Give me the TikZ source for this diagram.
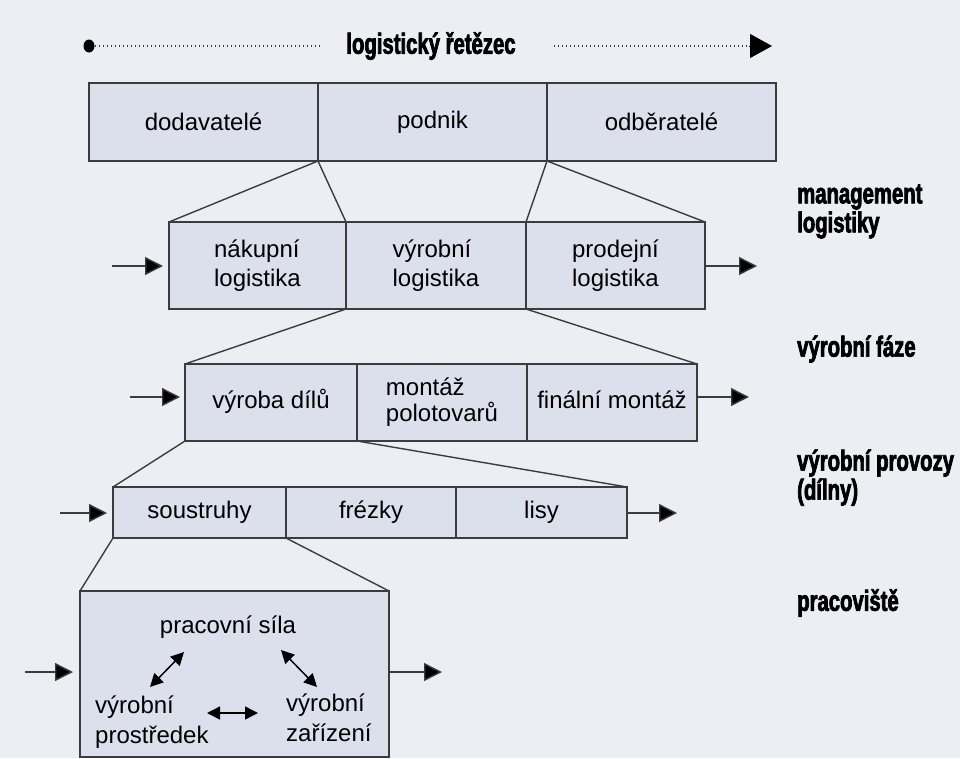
\documentclass[tikz,border=0pt]{standalone}
\usepackage{fontspec}
\setmainfont{Liberation Sans}
\newfontfamily\headfont[FakeStretch=0.70,FakeBold=2.4]{Liberation Sans Bold}
\usetikzlibrary{arrows.meta,shapes.geometric}
\definecolor{pagebg}{HTML}{EDEEF3}
\definecolor{cellfill}{HTML}{DCE0EC}
\definecolor{edge}{HTML}{3C3C3C}
\tikzset{
  cell/.style={draw=edge, fill=cellfill, line width=1.4pt, inner sep=0pt, outer sep=0pt,
    align=left, font=\fontsize{24}{29}\selectfont},
  oneline/.style={text height=17pt, text depth=5pt},
  link/.style={draw=edge, line width=1.4pt},
  flow/.style={draw=edge, line width=1.4pt, -{Triangle[length=18pt,width=18pt,fill=black]}},
  both/.style={draw=black, line width=1.5pt,
    {Triangle[length=13pt,width=13pt]}-{Triangle[length=13pt,width=13pt]}},
  txt/.style={inner sep=0pt, align=left, font=\fontsize{24}{30}\selectfont},
  head/.style={inner sep=0pt, align=left, anchor=west, font=\headfont\fontsize{29}{29}\selectfont},
  dotline/.style={draw=edge, line width=1.5pt, dash pattern=on 1.5pt off 2.5pt}
}
\begin{document}
\begin{tikzpicture}[x=1pt,y=-1pt]
\fill[pagebg] (0,0) rectangle (960,758);
\useasboundingbox (0,0) rectangle (960,758);
\clip (0,0) rectangle (960,758);

% chain heading
\node[ellipse, fill=black, inner sep=0pt, minimum width=11pt, minimum height=13pt] (start) at (89,46) {};
\node[inner sep=0pt, font=\headfont\fontsize{29}{29}\selectfont] (chain) at (431,46) {logistický řetězec};
\coordinate (chainend) at (772,46);
\draw[dotline] (start) -- ([xshift=-25pt]chain.west);
\draw[dotline] ([xshift=38pt]chain.east) -- ([xshift=-22pt]chainend);
\draw[-{Triangle[length=22pt,width=24pt]}, line width=1pt] ([xshift=-23pt]chainend) -- (chainend);

% level 1
\node[cell, minimum width=229pt, minimum height=78pt] (dod) at (203.5,122) {dodavatelé};
\node[cell, minimum width=229pt, minimum height=78pt] (pod) at (432.5,122) {podnik};
\node[cell, minimum width=229pt, minimum height=78pt] (odb) at (661.5,122) {odběratelé};

% level 2
\node[cell, minimum width=177pt, minimum height=87pt] (nak) at (257.5,265.5) {nákupní\\logistika};
\node[cell, minimum width=180pt, minimum height=87pt] (vyl) at (436,265.5) {výrobní\\logistika};
\node[cell, minimum width=179pt, minimum height=87pt] (pro) at (615.5,265.5) {prodejní\\logistika};

% level 3
\node[cell, oneline, minimum width=172pt, minimum height=77pt] (vd) at (271,402.5) {výroba dílů};
\node[cell, minimum width=170pt, minimum height=77pt, font=\fontsize{24}{26}\selectfont] (mp) at (442,402.5) {montáž\\polotovarů};
\node[cell, oneline, minimum width=170pt, minimum height=77pt] (fm) at (612,402.5) {finální montáž};

% level 4
\node[cell, oneline, minimum width=173pt, minimum height=51pt] (sou) at (199.5,512.5) {soustruhy};
\node[cell, oneline, minimum width=170pt, minimum height=51pt] (fre) at (371,512.5) {frézky};
\node[cell, oneline, minimum width=171pt, minimum height=51pt] (lis) at (541.5,512.5) {lisy};

% level 5: workplace
\node[cell, minimum width=309pt, minimum height=166pt] (wp) at (234.5,674) {};
\node[txt] (sila) at (228,627) {pracovní síla};
\node[txt, anchor=west] (prostr) at (95,722.5) {výrobní\\prostředek};
\node[txt, anchor=west] (zariz) at (286,718) {výrobní\\zařízení};
\coordinate (a1) at (150,687); \coordinate (a2) at (184,652);
\coordinate (b1) at (281,650); \coordinate (b2) at (317,687);
\coordinate (c1) at (207,713); \coordinate (c2) at (258,713);
\draw[both] (a1) -- (a2);
\draw[both] (b1) -- (b2);
\draw[both] (c1) -- (c2);

% zoom-in connectors
\draw[link] (pod.south west) -- (nak.north west);
\draw[link] (pod.south west) -- (nak.north east);
\draw[link] (pod.south east) -- (pro.north west);
\draw[link] (pod.south east) -- (pro.north east);
\draw[link] (vyl.south west) -- (vd.north west);
\draw[link] (vyl.south east) -- (fm.north east);
\draw[link] (vd.south west) -- (sou.north west);
\draw[link] (vd.south east) -- (lis.north east);
\draw[link] (sou.south west) -- (wp.north west);
\draw[link] (sou.south east) -- (wp.north east);

% inputs and outputs
\coordinate (in2) at (112,266);  \coordinate (out2) at (757,266);
\coordinate (in3) at (130,397);  \coordinate (out3) at (749,397);
\coordinate (in4) at (60,513);   \coordinate (out4) at (677,513);
\coordinate (in5) at (25,672);   \coordinate (out5) at (442,672);
\draw[flow, shorten >=6pt] (in2) -- (nak.west |- in2);
\draw[flow] (pro.east |- out2) -- (out2);
\draw[flow, shorten >=5pt] (in3) -- (vd.west |- in3);
\draw[flow] (fm.east |- out3) -- (out3);
\draw[flow, shorten >=6pt] (in4) -- (sou.west |- in4);
\draw[flow] (lis.east |- out4) -- (out4);
\draw[flow, shorten >=7pt] (in5) -- (wp.west |- in5);
\draw[flow] (wp.east |- out5) -- (out5);

% level captions
\node[head] (cap1) at (797,211.5) {management\\logistiky};
\node[head] (cap2) at (797,349) {výrobní fáze};
\node[head] (cap3) at (797,477.5) {výrobní provozy\\(dílny)};
\node[head] (cap4) at (797,603) {pracoviště};
\end{tikzpicture}
\end{document}
